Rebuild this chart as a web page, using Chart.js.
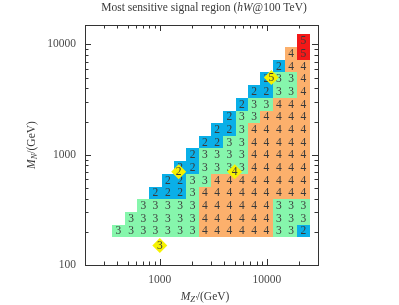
<!DOCTYPE html>
<html><head><meta charset="utf-8">
<script src="https://cdn.jsdelivr.net/npm/chart.js@4.4.1/dist/chart.umd.min.js"></script>
<style>html,body{margin:0;padding:0;background:#fff}#wrap{width:399px;height:305px}</style>
</head><body><div id="wrap"><canvas id="c" width="399" height="305"></canvas></div>
<script>
// Grid cell centres (GeV)
const mzpCenters = [410, 540, 700, 910, 1190, 1550, 2020, 2630, 3430, 4470, 5830, 7600, 9900, 12900, 16800, 21900];
const mnCenters  = [204, 265, 346, 450, 587, 765, 997, 1300, 1690, 2200, 2870, 3750, 4880, 6360, 8290, 10800];
// Most sensitive signal region, rows from lowest M_N upward, columns by M_Z'
const _ = null;
const regionRows = [
  [3,3,3,3,3,3,3,4,4,4,4,4,4,3,3,2],
  [_,3,3,3,3,3,3,4,4,4,4,4,4,3,3,3],
  [_,_,3,3,3,3,3,4,4,4,4,4,4,3,3,3],
  [_,_,_,2,2,2,3,4,4,4,4,4,4,4,4,4],
  [_,_,_,_,2,2,3,3,4,4,4,4,4,4,4,4],
  [_,_,_,_,_,2,2,3,3,3,3,4,4,4,4,4],
  [_,_,_,_,_,_,2,3,3,3,3,4,4,4,4,4],
  [_,_,_,_,_,_,_,2,2,3,3,4,4,4,4,4],
  [_,_,_,_,_,_,_,_,2,2,3,4,4,4,4,4],
  [_,_,_,_,_,_,_,_,_,2,3,3,4,4,4,4],
  [_,_,_,_,_,_,_,_,_,_,2,3,3,4,4,4],
  [_,_,_,_,_,_,_,_,_,_,_,2,2,3,3,4],
  [_,_,_,_,_,_,_,_,_,_,_,_,2,3,3,4],
  [_,_,_,_,_,_,_,_,_,_,_,_,_,2,4,4],
  [_,_,_,_,_,_,_,_,_,_,_,_,_,_,4,5],
  [_,_,_,_,_,_,_,_,_,_,_,_,_,_,_,5]
];
// Benchmark points (yellow diamonds)
const bestMzp   = [1000, 1500, 5000, 11000];
const bestMn    = [150, 700, 700, 5000];
const bestLabel = ['3', '2', '4', '5'];
// Axis ticks
const xTickValues = [1000, 10000];
const yTickValues = [100, 1000, 10000];

const regionColors = {2:'#0AAFE8', 3:'#86F6AC', 4:'#FCB06C', 5:'#F31818'};
const SERIF = "'Liberation Serif','DejaVu Serif',serif";

function edges(c){
  const e = [c[0] / Math.sqrt(c[1] / c[0])];
  for (let i = 1; i < c.length; i++) e.push(Math.sqrt(c[i-1] * c[i]));
  const n = c.length;
  e.push(c[n-1] * Math.sqrt(c[n-1] / c[n-2]));
  return e;
}
const xEdges = edges(mzpCenters), yEdges = edges(mnCenters);

const cellPlugin = {
  id: 'cells',
  beforeDatasetsDraw(chart){
    const {ctx, chartArea: a, scales: {x, y}} = chart;
    ctx.save();
    ctx.beginPath(); ctx.rect(a.left, a.top, a.right - a.left, a.bottom - a.top); ctx.clip();
    regionRows.forEach((row, r) => row.forEach((v, c) => {
      if (v == null) return;
      const x0 = Math.round(x.getPixelForValue(xEdges[c])), x1 = Math.round(x.getPixelForValue(xEdges[c+1]));
      const y0 = Math.round(y.getPixelForValue(yEdges[r+1])), y1 = Math.round(y.getPixelForValue(yEdges[r]));
      ctx.fillStyle = regionColors[v];
      ctx.fillRect(x0, y0, x1 - x0, y1 - y0);
    }));
    ctx.fillStyle = '#3a3a3a';
    ctx.font = '11.5px ' + SERIF;
    ctx.textAlign = 'center'; ctx.textBaseline = 'middle';
    regionRows.forEach((row, r) => row.forEach((v, c) => {
      if (v == null) return;
      ctx.fillText(String(v), x.getPixelForValue(mzpCenters[c]), y.getPixelForValue(mnCenters[r]) + 0.5);
    }));
    ctx.restore();
  },
  afterDatasetsDraw(chart){
    const {ctx} = chart;
    const meta = chart.getDatasetMeta(0);
    ctx.save();
    ctx.fillStyle = '#3a3a3a';
    ctx.font = '11.5px ' + SERIF;
    ctx.textAlign = 'center'; ctx.textBaseline = 'middle';
    meta.data.forEach((p, i) => ctx.fillText(bestLabel[i], p.x, p.y + 0.5));
    ctx.restore();
  },
  afterDraw(chart){
    const {ctx, chartArea: a, scales: {x, y}} = chart;
    ctx.save();
    ctx.strokeStyle = '#333'; ctx.lineWidth = 1;
    ctx.strokeRect(Math.round(a.left) + 0.5, Math.round(a.top) + 0.5, Math.round(a.right - a.left), Math.round(a.bottom - a.top));
    ctx.beginPath();
    for (let e = 2; e <= 4; e++) for (let m = 1; m <= 9; m++) {
      const v = m * Math.pow(10, e);
      const len = m === 1 ? 6 : 3.5;
      if (v > x.min && v < x.max) {
        const px = Math.round(x.getPixelForValue(v)) + 0.5;
        ctx.moveTo(px, a.bottom); ctx.lineTo(px, a.bottom - len);
        ctx.moveTo(px, a.top); ctx.lineTo(px, a.top + len);
      }
      if (v > y.min && v < y.max) {
        const py = Math.round(y.getPixelForValue(v)) + 0.5;
        ctx.moveTo(a.left, py); ctx.lineTo(a.left + len, py);
        ctx.moveTo(a.right, py); ctx.lineTo(a.right - len, py);
      }
    }
    ctx.stroke();

    // Title
    ctx.fillStyle = '#3a3a3a';
    ctx.textBaseline = 'middle';
    const parts = [['Most sensitive signal region (', ''], ['hW', 'italic '], ['@100 TeV)', '']];
    const fs = 11.5;
    let w = 0;
    parts.forEach(p => { ctx.font = p[1] + fs + 'px ' + SERIF; w += ctx.measureText(p[0]).width; });
    let cx = 204 - w / 2;
    ctx.textAlign = 'left';
    parts.forEach(p => { ctx.font = p[1] + fs + 'px ' + SERIF; ctx.fillText(p[0], cx, 8); cx += ctx.measureText(p[0]).width; });

    // Axis label helper: M_sub/(GeV)
    function axisLabel(sub, cxp, cyp, rot){
      ctx.save();
      ctx.translate(cxp, cyp); ctx.rotate(rot);
      const segs = [['M', 'italic ', fs, 0], [sub, 'italic ', 8.5, 2.5], ['/(GeV)', '', fs, 0]];
      let tw = 0;
      segs.forEach(s => { ctx.font = s[1] + s[2] + 'px ' + SERIF; tw += ctx.measureText(s[0]).width; });
      let sx = -tw / 2;
      segs.forEach(s => { ctx.font = s[1] + s[2] + 'px ' + SERIF; ctx.fillText(s[0], sx, s[3]); sx += ctx.measureText(s[0]).width; });
      ctx.restore();
    }
    axisLabel("Z\u2032", 205, 297, 0);
    axisLabel('N', 32, 145, -Math.PI / 2);
    ctx.restore();
  }
};

new Chart(document.getElementById('c'), {
  type: 'scatter',
  data: {
    datasets: [{
      data: bestMzp.map((v, i) => ({x: v, y: bestMn[i]})),
      pointStyle: 'rectRot',
      pointRadius: 7.5,
      backgroundColor: '#F6F200',
      borderWidth: 0
    }]
  },
  options: {
    responsive: false,
    devicePixelRatio: 1,
    animation: false,
    events: [],
    layout: {padding: {top: 25, right: 81, left: 0, bottom: 0}},
    plugins: {legend: {display: false}, tooltip: {enabled: false}, title: {display: false}},
    scales: {
      x: {
        type: 'logarithmic', min: 200, max: 30000,
        afterBuildTicks: s => { s.ticks = xTickValues.map(v => ({value: v})); },
        afterFit: s => { s.height = 40; },
        ticks: {callback: v => String(v), font: {family: SERIF, size: 11.5}, color: '#4a4a4a', padding: 8, maxRotation: 0, autoSkip: false},
        grid: {display: false, drawTicks: false},
        border: {display: false}
      },
      y: {
        type: 'logarithmic', min: 100, max: 15000,
        afterBuildTicks: s => { s.ticks = yTickValues.map(v => ({value: v})); },
        afterFit: s => { s.width = 85; },
        ticks: {callback: v => String(v), font: {family: SERIF, size: 11.5}, color: '#4a4a4a', padding: 9, autoSkip: false},
        grid: {display: false, drawTicks: false},
        border: {display: false}
      }
    }
  },
  plugins: [cellPlugin]
});
</script>
</body></html>
